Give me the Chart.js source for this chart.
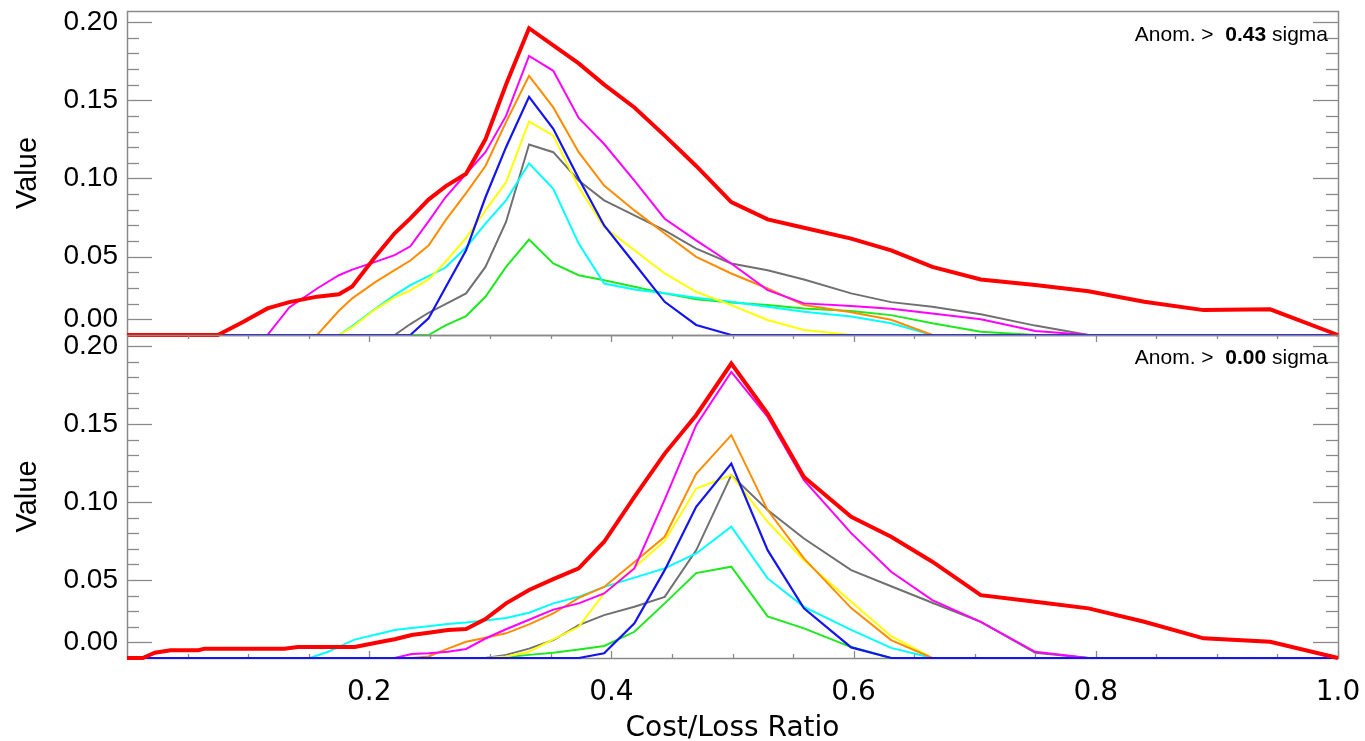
<!DOCTYPE html>
<html>
<head>
<meta charset="utf-8">
<title>Cost/Loss Ratio</title>
<script src="https://cdn.jsdelivr.net/npm/chart.js@4.4.1/dist/chart.umd.min.js"></script>
<style>
  html, body { margin: 0; padding: 0; background: #fff; }
  #wrap { position: relative; width: 1365px; height: 741px; overflow: hidden; background: #fff; }
  #wrap canvas { position: absolute; left: 0; }
  #top { top: 0; }
  #bottom { top: 325px; }
</style>
</head>
<body>
<div id="wrap">
  <canvas id="top" width="1365" height="345"></canvas>
  <canvas id="bottom" width="1365" height="416"></canvas>
</div>
<script>
// cost/loss grid, upper panel (Anom. > 0.43 sigma)
var xTop = [0.0, 0.075, 0.095, 0.116, 0.134, 0.157, 0.175, 0.186, 0.205, 0.221, 0.234, 0.249, 0.263, 0.280, 0.296, 0.313, 0.332, 0.352, 0.373, 0.394,
  0.419, 0.444, 0.470, 0.499, 0.529, 0.559, 0.598, 0.631, 0.665, 0.705, 0.750, 0.794, 0.840, 0.889, 0.944, 1.0];

var topRed = [0, 0, 0.008, 0.017, 0.021, 0.0245, 0.026, 0.031, 0.050, 0.065, 0.0745, 0.0865, 0.095, 0.103, 0.125, 0.160, 0.196, 0.185, 0.1735, 0.160,
  0.1454, 0.1274, 0.108, 0.0849, 0.0739, 0.0685, 0.0616, 0.0541, 0.0435, 0.0355, 0.032, 0.028, 0.0212, 0.0159, 0.0164, 0];
var topMagenta = [0, 0, 0, 0, 0.0176, 0.0297, 0.0382, 0.0418, 0.0467, 0.051, 0.0567, 0.0726, 0.088, 0.103, 0.1168, 0.140, 0.1783, 0.1688, 0.1387, 0.122,
  0.0987, 0.0743, 0.0605, 0.0457, 0.0287, 0.0202, 0.0185, 0.0168, 0.0138, 0.0100, 0.0025, 0, 0, 0, 0, 0];
var topOrange = [0, 0, 0, 0, 0, 0, 0.0155, 0.0234, 0.0338, 0.0414, 0.0476, 0.0571, 0.0732, 0.0906, 0.108, 0.136, 0.1656, 0.1454, 0.1168, 0.0955,
  0.0796, 0.0648, 0.0499, 0.0393, 0.0297, 0.0191, 0.0145, 0.0097, 0, 0, 0, 0, 0, 0, 0, 0];
var topYellow = [0, 0, 0, 0, 0, 0, 0, 0.005, 0.0164, 0.024, 0.0285, 0.0355, 0.0467, 0.062, 0.0796, 0.0976, 0.1365, 0.1274, 0.0945, 0.069,
  0.0541, 0.0393, 0.0276, 0.0191, 0.0096, 0.0032, 0, 0, 0, 0, 0, 0, 0, 0, 0, 0];
var topCyan = [0, 0, 0, 0, 0, 0, 0, 0.0057, 0.0168, 0.0255, 0.0318, 0.0376, 0.0431, 0.0559, 0.0711, 0.086, 0.1097, 0.0934, 0.0584, 0.0329,
  0.0291, 0.0266, 0.0238, 0.0212, 0.018, 0.0148, 0.0118, 0.0075, 0, 0, 0, 0, 0, 0, 0, 0];
var topGray = [0, 0, 0, 0, 0, 0, 0, 0, 0, 0, 0.007, 0.0142, 0.0197, 0.0266, 0.0435, 0.0722, 0.1217, 0.1168, 0.0987, 0.086,
  0.0764, 0.0669, 0.0552, 0.0457, 0.0414, 0.0355, 0.0266, 0.021, 0.018, 0.0132, 0.006, 0, 0, 0, 0, 0];
var topBlue = [0, 0, 0, 0, 0, 0, 0, 0, 0, 0, 0, 0.0106, 0.0304, 0.0541, 0.088, 0.120, 0.1522, 0.1317, 0.100, 0.070,
  0.0457, 0.0212, 0.0064, 0, 0, 0, 0, 0, 0, 0, 0, 0, 0, 0, 0, 0];
var topGreen = [0, 0, 0, 0, 0, 0, 0, 0, 0, 0, 0, 0, 0.0062, 0.0121, 0.0244, 0.0435, 0.061, 0.0457, 0.0382, 0.035,
  0.0308, 0.0266, 0.0229, 0.0208, 0.0191, 0.017, 0.0153, 0.0127, 0.0075, 0.0021, 0, 0, 0, 0, 0, 0];

// cost/loss grid, lower panel (Anom. > 0.00 sigma)
var xBot = [0.0, 0.013, 0.023, 0.036, 0.059, 0.064, 0.095, 0.130, 0.141, 0.151, 0.166, 0.188, 0.210, 0.221, 0.235, 0.249, 0.265, 0.280, 0.296, 0.313,
  0.332, 0.352, 0.373, 0.394, 0.419, 0.444, 0.470, 0.499, 0.529, 0.559, 0.598, 0.631, 0.665, 0.705, 0.750, 0.794, 0.840, 0.889, 0.944, 1.0];

var botRed = [0, 0, 0.0034, 0.005, 0.005, 0.006, 0.006, 0.006, 0.007, 0.007, 0.007, 0.007, 0.0104, 0.012, 0.0147, 0.0162, 0.018, 0.0186, 0.025, 0.035,
  0.0436, 0.0505, 0.0574, 0.0745, 0.1033, 0.131, 0.1556, 0.1887, 0.1567, 0.116, 0.0905, 0.0777, 0.0617, 0.0403, 0.036, 0.0318, 0.0232, 0.0126, 0.0104, 0];
var botMagenta = [0, 0, 0, 0, 0, 0, 0, 0, 0, 0, 0, 0, 0, 0, 0.0026, 0.003, 0.004, 0.0058, 0.0125, 0.0184,
  0.0245, 0.031, 0.035, 0.0414, 0.0574, 0.1015, 0.1492, 0.1833, 0.1545, 0.114, 0.080, 0.0553, 0.0371, 0.0232, 0.004, 0, 0, 0, 0, 0];
var botOrange = [0, 0, 0, 0, 0, 0, 0, 0, 0, 0, 0, 0, 0, 0, 0, 0.001, 0.006, 0.0104, 0.013, 0.0158,
  0.0215, 0.0286, 0.0385, 0.0455, 0.0615, 0.0777, 0.118, 0.1428, 0.0948, 0.0638, 0.032, 0.0115, 0, 0, 0, 0, 0, 0, 0, 0];
var botYellow = [0, 0, 0, 0, 0, 0, 0, 0, 0, 0, 0, 0, 0, 0, 0, 0, 0, 0, 0, 0.001,
  0.004, 0.012, 0.020, 0.0414, 0.058, 0.075, 0.1086, 0.1172, 0.0873, 0.0627, 0.036, 0.0140, 0, 0, 0, 0, 0, 0, 0, 0];
var botCyan = [0, 0, 0, 0, 0, 0, 0, 0, 0, 0, 0.004, 0.0118, 0.0159, 0.018, 0.0192, 0.0204, 0.0218, 0.0227, 0.0241, 0.0256,
  0.029, 0.035, 0.0392, 0.0456, 0.0515, 0.0574, 0.067, 0.0841, 0.051, 0.0328, 0.018, 0.0065, 0, 0, 0, 0, 0, 0, 0, 0];
var botGray = [0, 0, 0, 0, 0, 0, 0, 0, 0, 0, 0, 0, 0, 0, 0, 0, 0, 0, 0, 0.002,
  0.006, 0.0115, 0.0211, 0.0275, 0.0328, 0.0392, 0.069, 0.1172, 0.0948, 0.0766, 0.0563, 0.046, 0.0354, 0.0232, 0.0034, 0, 0, 0, 0, 0];
var botBlue = [0, 0, 0, 0, 0, 0, 0, 0, 0, 0, 0, 0, 0, 0, 0, 0, 0, 0, 0, 0,
  0, 0, 0, 0.003, 0.0222, 0.0563, 0.0969, 0.1246, 0.0691, 0.0318, 0.0068, 0, 0, 0, 0, 0, 0, 0, 0, 0];
var botGreen = [0, 0, 0, 0, 0, 0, 0, 0, 0, 0, 0, 0, 0, 0, 0, 0, 0, 0, 0, 0.0005,
  0.002, 0.0034, 0.0055, 0.0077, 0.0168, 0.035, 0.0544, 0.0585, 0.0267, 0.019, 0.007, 0, 0, 0, 0, 0, 0, 0, 0, 0];

// axis ticks as printed on the figure
var yTickValues = [0.01, 0.05, 0.10, 0.15, 0.20];
var yTickLabels = ['0.00', '0.05', '0.10', '0.15', '0.20'];
var yMinorValues = [0.02, 0.03, 0.04, 0.06, 0.07, 0.08, 0.09, 0.11, 0.12, 0.13, 0.14, 0.16, 0.17, 0.18, 0.19];
var xTickValues = [0.2, 0.4, 0.6, 0.8, 1.0];
var xTickLabels = ['0.2', '0.4', '0.6', '0.8', '1.0'];
var xMinorValues = [0.05, 0.1, 0.15, 0.25, 0.3, 0.35, 0.45, 0.5, 0.55, 0.65, 0.7, 0.75, 0.85, 0.9, 0.95];
var sigmaLabels = ['0.43', '0.00'];

(function () {
  'use strict';

  var SANS = '"Liberation Sans", Arial, Helvetica, sans-serif';
  var WIDE = '"DejaVu Sans", Verdana, sans-serif';
  var FRAME = '#8a8a8a';

  Chart.defaults.font.family = SANS;
  Chart.defaults.color = '#000';

  function points(xs, ys) {
    return ys.map(function (y, i) { return { x: xs[i], y: y }; });
  }

  // first dataset is painted last, so red ends up on top and blue over the baseline
  function datasets(xs, s) {
    var spec = [
      [s.red, '#ff0000', 4],
      [s.blue, '#1414f0', 2.2],
      [s.magenta, '#ff00ff', 2],
      [s.orange, '#ff8c00', 2],
      [s.yellow, '#ffff00', 2],
      [s.cyan, '#00ffff', 2],
      [s.gray, '#707070', 2],
      [s.green, '#1ee81e', 2]
    ];
    return spec.map(function (d) {
      return {
        data: points(xs, d[0]),
        borderColor: d[1],
        borderWidth: d[2],
        pointRadius: 0,
        tension: 0,
        fill: false,
        clip: false
      };
    });
  }

  function hline(ctx, x1, x2, y) {
    y = Math.round(y) + 0.5;
    ctx.beginPath(); ctx.moveTo(x1, y); ctx.lineTo(x2, y); ctx.stroke();
  }
  function vline(ctx, x, y1, y2) {
    x = Math.round(x) + 0.5;
    ctx.beginPath(); ctx.moveTo(x, y1); ctx.lineTo(x, y2); ctx.stroke();
  }

  // box plus inward tick marks, drawn under the curves
  var edgeTicks = {
    id: 'edgeTicks',
    beforeDatasetsDraw: function (chart, args, opts) {
      var ctx = chart.ctx, a = chart.chartArea;
      var xs = chart.scales.x, ys = chart.scales.y;
      ctx.save();
      ctx.strokeStyle = FRAME;
      ctx.lineWidth = 1.5;
      ctx.strokeRect(Math.round(a.left) + 0.5, Math.round(a.top) + 0.5, Math.round(a.right - a.left), Math.round(a.bottom - a.top));
      ctx.lineWidth = 1.3;
      yTickValues.forEach(function (v) {
        var y = ys.getPixelForValue(v);
        hline(ctx, a.left, a.left + 25, y);
        hline(ctx, a.right - 25, a.right, y);
      });
      yMinorValues.forEach(function (v) {
        var y = ys.getPixelForValue(v);
        hline(ctx, a.left, a.left + 12, y);
        hline(ctx, a.right - 12, a.right, y);
      });
      if (opts.xTicks) {
        xTickValues.forEach(function (v) {
          var x = xs.getPixelForValue(v);
          vline(ctx, x, a.bottom - 7, a.bottom);
          vline(ctx, x, a.top, a.top + 7);
        });
        xMinorValues.forEach(function (v) {
          var x = xs.getPixelForValue(v);
          vline(ctx, x, a.bottom - 4, a.bottom);
          vline(ctx, x, a.top, a.top + 4);
        });
      }
      ctx.restore();
    }
  };

  var sigmaNote = {
    id: 'sigmaNote',
    afterDraw: function (chart, args, opts) {
      var ctx = chart.ctx, a = chart.chartArea;
      var parts = [
        { t: 'Anom. >  ', f: '21px ' + SANS },
        { t: opts.value, f: 'bold 21px ' + SANS },
        { t: ' sigma', f: '21px ' + SANS }
      ];
      ctx.save();
      ctx.fillStyle = '#000';
      ctx.textBaseline = 'middle';
      ctx.textAlign = 'left';
      var total = 0;
      parts.forEach(function (p) { ctx.font = p.f; p.w = ctx.measureText(p.t).width; total += p.w; });
      var x = a.right - 10 - total;
      var y = a.top + opts.dy;
      parts.forEach(function (p) { ctx.font = p.f; ctx.fillText(p.t, x, y); x += p.w; });
      ctx.restore();
    }
  };

  function yAxis() {
    return {
      min: 0,
      max: 0.207,
      afterFit: function (scale) {
        scale.width = 127;
        scale.paddingTop = 0;
        scale.paddingBottom = 0;
      },
      afterBuildTicks: function (scale) {
        scale.ticks = yTickValues.map(function (v) { return { value: v }; });
      },
      grid: { display: false, drawTicks: false },
      border: { display: false },
      ticks: {
        autoSkip: false,
        padding: 9,
        color: '#000',
        font: { size: 28 },
        callback: function (v, i) { return yTickLabels[i]; }
      },
      title: {
        display: true,
        text: 'Value',
        color: '#000',
        font: { size: 29 },
        padding: { top: 11, bottom: 0 }
      }
    };
  }

  function baseOptions(padding) {
    return {
      responsive: false,
      animation: false,
      devicePixelRatio: 1,
      layout: { padding: padding },
      plugins: { legend: { display: false }, tooltip: { enabled: false } },
      elements: { line: { borderJoinStyle: 'miter', borderCapStyle: 'butt' } }
    };
  }

  var topOpts = baseOptions({ top: 11, right: 27, bottom: 10, left: 0 });
  topOpts.scales = {
    x: { type: 'linear', min: 0, max: 1, display: false },
    y: yAxis()
  };
  topOpts.plugins.edgeTicks = { xTicks: false };
  topOpts.plugins.sigmaNote = { value: sigmaLabels[0], dy: 24 };

  new Chart(document.getElementById('top'), {
    type: 'line',
    data: {
      datasets: datasets(xTop, {
        red: topRed, blue: topBlue, magenta: topMagenta, orange: topOrange,
        yellow: topYellow, cyan: topCyan, gray: topGray, green: topGreen
      })
    },
    options: topOpts,
    plugins: [edgeTicks, sigmaNote]
  });

  var botOpts = baseOptions({ top: 10, right: 27, bottom: 0, left: 0 });
  botOpts.scales = {
    x: {
      type: 'linear',
      min: 0,
      max: 1,
      afterFit: function (scale) {
        scale.height = 83;
        scale.paddingLeft = 0;
        scale.paddingRight = 0;
      },
      afterBuildTicks: function (scale) {
        scale.ticks = xTickValues.map(function (v) { return { value: v }; });
      },
      grid: { display: false, drawTicks: false },
      border: { display: false },
      ticks: {
        autoSkip: false,
        maxRotation: 0,
        padding: 18,
        color: '#000',
        font: { family: WIDE, size: 28 },
        callback: function (v, i) { return xTickLabels[i]; }
      },
      title: {
        display: true,
        text: 'Cost/Loss Ratio',
        color: '#000',
        font: { family: WIDE, size: 28, lineHeight: 0.85 },
        padding: { top: 0, bottom: 0 }
      }
    },
    y: yAxis()
  };
  botOpts.plugins.edgeTicks = { xTicks: true };
  botOpts.plugins.sigmaNote = { value: sigmaLabels[1], dy: 23 };

  new Chart(document.getElementById('bottom'), {
    type: 'line',
    data: {
      datasets: datasets(xBot, {
        red: botRed, blue: botBlue, magenta: botMagenta, orange: botOrange,
        yellow: botYellow, cyan: botCyan, gray: botGray, green: botGreen
      })
    },
    options: botOpts,
    plugins: [edgeTicks, sigmaNote]
  });
})();
</script>
</body>
</html>
